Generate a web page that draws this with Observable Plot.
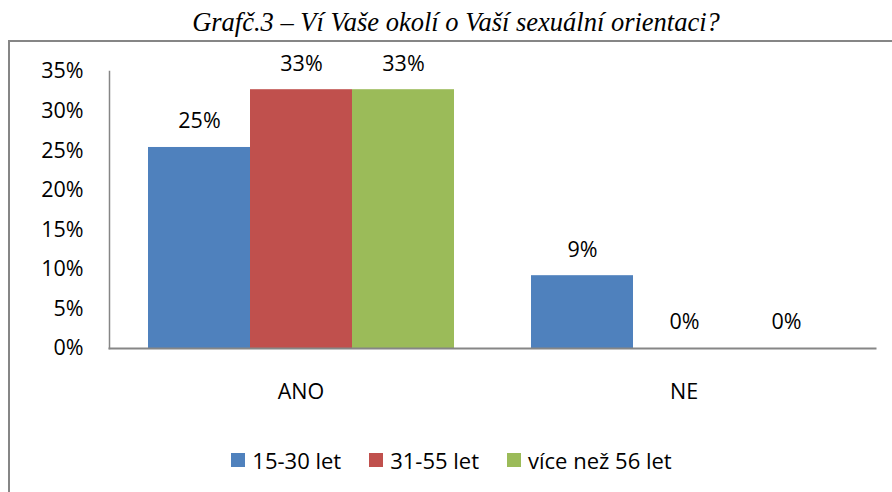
<!DOCTYPE html>
<html><head><meta charset="utf-8">
<script src="https://cdn.jsdelivr.net/npm/d3@7"></script>
<script src="https://cdn.jsdelivr.net/npm/@observablehq/plot@0.6"></script>
<style>
body{margin:0;background:#fff;width:892px;height:492px;overflow:hidden;position:relative;font-family:"Open Sans",sans-serif;}
#title{position:absolute;left:0;top:8px;width:912px;text-align:center;font:italic 26.5px "Liberation Serif",serif;color:#000;line-height:28px;}
#frame{position:absolute;left:8px;top:40px;width:920px;height:520px;border:2px solid #868686;box-sizing:border-box;}
#chart{position:absolute;left:0;top:0;}
#legend{position:absolute;top:445px;left:0;width:903px;display:flex;justify-content:center;align-items:center;font-size:22px;color:#000;}
#legend .item{display:flex;align-items:center;margin:0 14px;}
#legend .sw{width:14px;height:14px;margin-right:7px;}
</style></head>
<body>
<div id="frame"></div>
<div id="title">Grafč.3 – Ví Vaše okolí o Vaší sexuální orientaci?</div>
<div id="chart"></div>
<div id="legend"></div>
<script>
const groups = ["ANO", "NE"];
const series = ["15-30 let", "31-55 let", "více než 56 let"];
const values1530 = [0.254, 0.092];
const values3155 = [0.327, 0.0];
const values56 = [0.327, 0.0];
const colors = ["#4F81BD", "#C0504D", "#9BBB59"];
const yTicks = [0, 0.05, 0.10, 0.15, 0.20, 0.25, 0.30, 0.35];

const seriesValues = [values1530, values3155, values56];
const data = [];
groups.forEach((g, gi) => series.forEach((s, si) => data.push({group: g, series: s, value: seriesValues[si][gi]})));
const pct = d3.format(".0%");

const plot = Plot.plot({
  width: 892,
  height: 420,
  marginLeft: 109,
  marginRight: 17,
  marginTop: 71,
  marginBottom: 72,
  style: {fontFamily: "'Open Sans', sans-serif", fontSize: "21.5px", color: "#000", background: "transparent"},
  fx: {domain: groups, padding: 0, label: null, axis: "bottom", tickSize: 0, tickPadding: 35},
  x: {domain: series, paddingInner: 0, paddingOuter: 0.377, axis: null},
  y: {domain: [0, 0.35], ticks: yTicks, tickFormat: pct, tickSize: 0, tickPadding: 26, label: null},
  color: {domain: series, range: colors},
  marks: [
    Plot.barY(data, {fx: "group", x: "series", y: "value", fill: "series"}),
    Plot.text(data, {fx: "group", x: "series", y: "value", text: d => pct(d.value), dy: -26, fontSize: 21.5}),
    Plot.frame({anchor: "bottom", facet: "super", stroke: "#868686", strokeWidth: 2}),
    Plot.frame({anchor: "left", facet: "super", stroke: "#868686", strokeWidth: 1.5})
  ]
});
document.getElementById("chart").appendChild(plot);

const legend = document.getElementById("legend");
series.forEach((s, i) => {
  const it = document.createElement("div");
  it.className = "item";
  const sw = document.createElement("span");
  sw.className = "sw";
  sw.style.background = colors[i];
  const tx = document.createElement("span");
  tx.textContent = s;
  it.appendChild(sw); it.appendChild(tx);
  legend.appendChild(it);
});
</script>
</body></html>
